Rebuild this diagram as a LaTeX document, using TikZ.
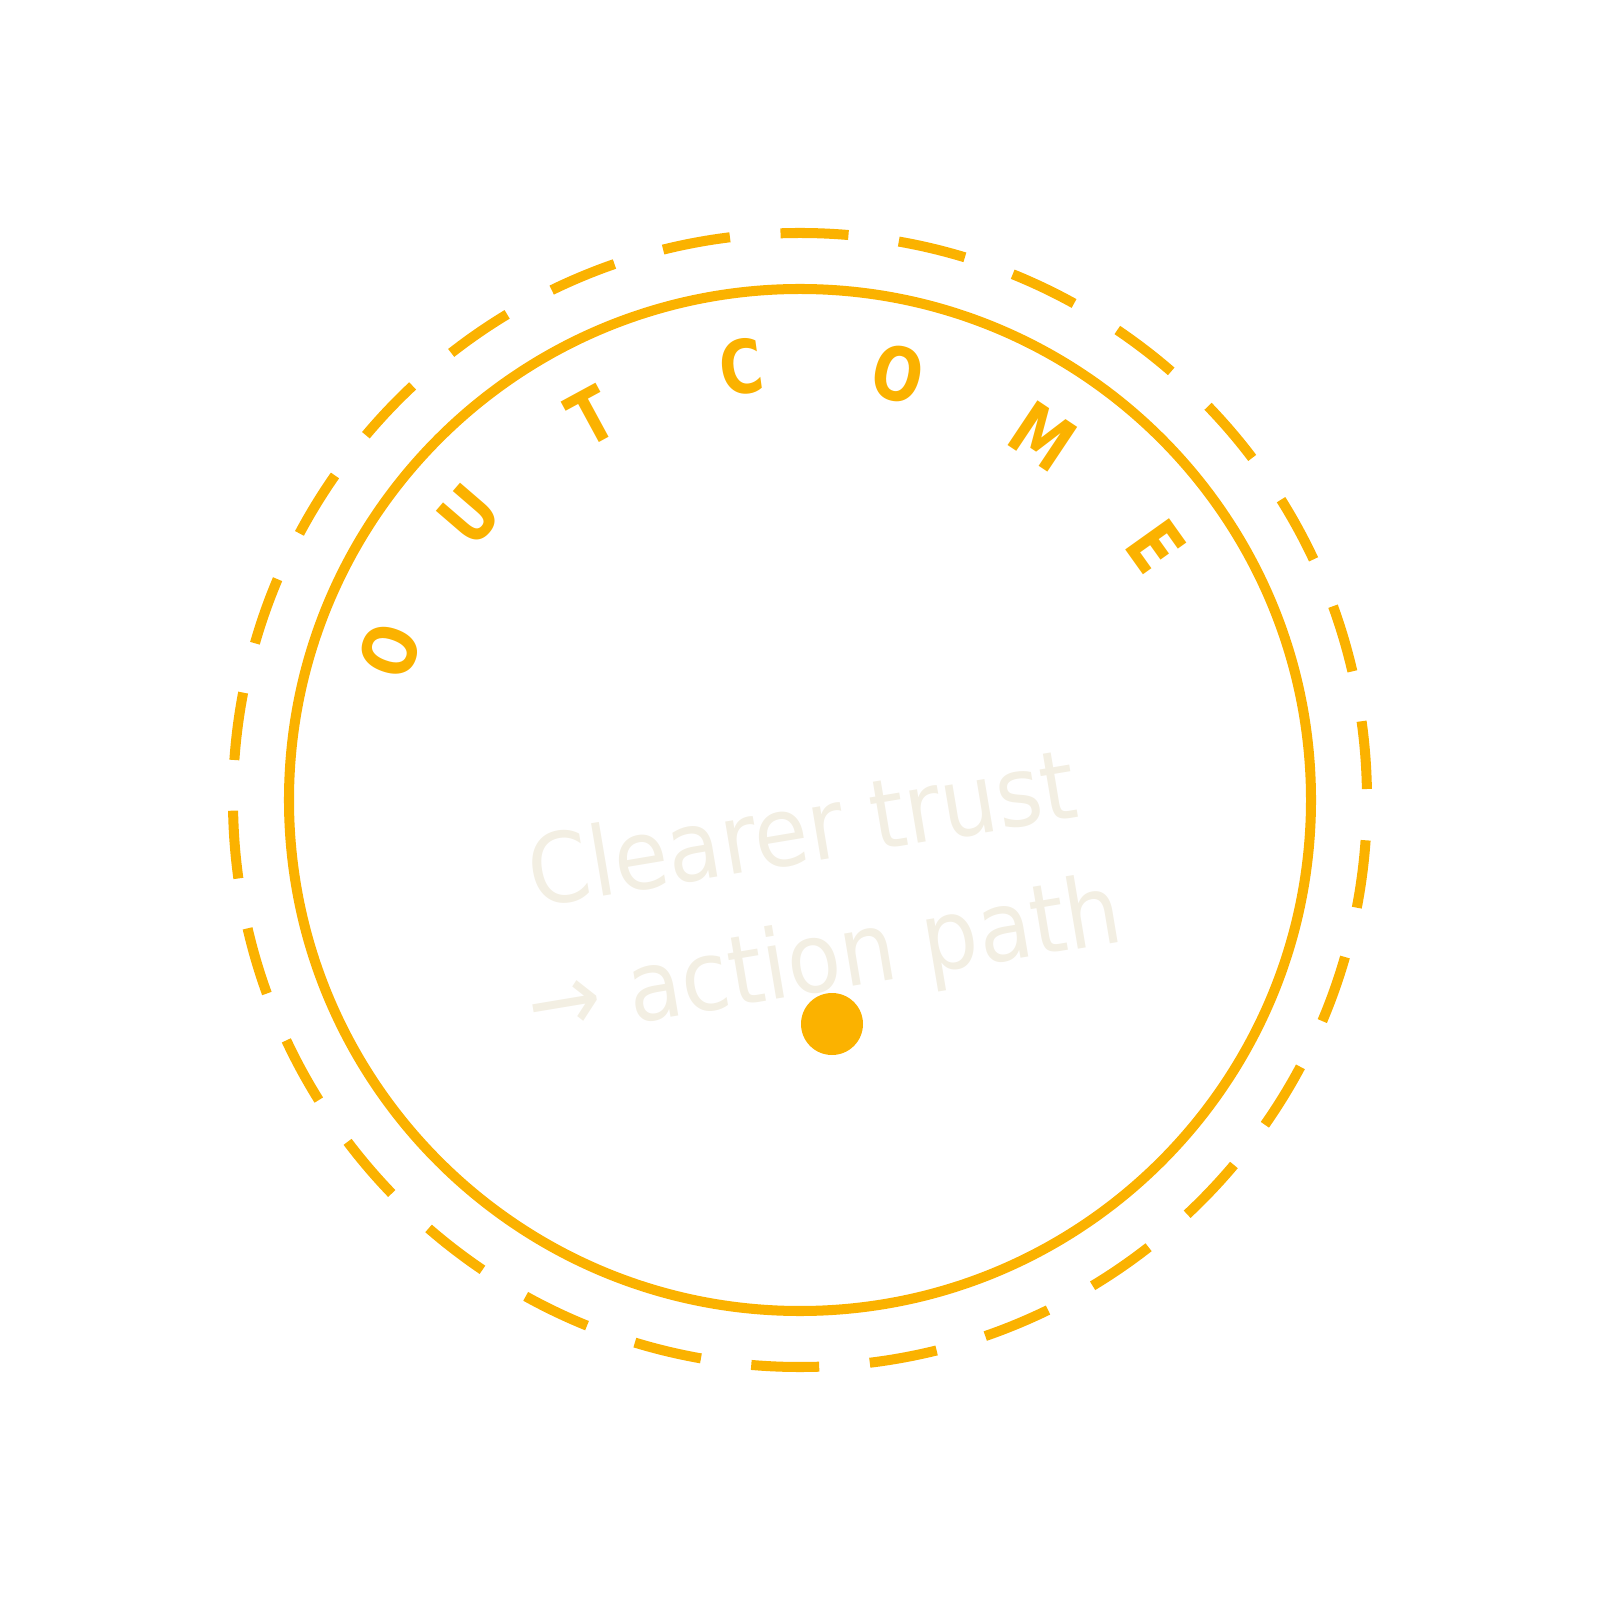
\documentclass[tikz,border=0pt]{standalone}
\usepackage{fontspec}
\setmainfont{DejaVu Sans}
\newfontfamily\arcfont[FakeStretch=0.8]{DejaVu Sans Bold}
\newfontfamily\claimfont[FakeStretch=0.91]{DejaVu Sans}
\definecolor{mygold}{RGB}{251,178,0}
\definecolor{mycream}{RGB}{243,239,227}

\begin{document}
\begin{tikzpicture}
\tikzset{
  ring/.style ={draw=mygold, line width=2.85pt},
  dashring/.style ={ring, dash pattern=on 0.68cm off 0.5075cm, dash phase=1.0775cm},
  arcletter/.style ={text=mygold, inner sep=0, font=\arcfont\fontsize{21}{22}\selectfont},
  centertext/.style ={text=mycream, align=center, font=\claimfont\fontsize{27.5}{37}\selectfont}
}
\useasboundingbox (-8,-8) rectangle (8,8);
\draw[dashring] (0,0) circle (5.67);
\draw[ring] (0,0) circle (5.11);
\foreach \ch [count=\i, evaluate=\i as \ang using 160-(\i-1)*20.75] in {O,U,T,C,O,M,E}
  \node[arcletter, rotate=\ang-90] (letter\i) at (\ang:4.37) {\ch};
\node[centertext, rotate=9.5] (claim) at (0.14,-1.0) {Clearer trust\\→ action path};
\node[circle, fill=mygold, inner sep=0, minimum size=0.62cm] (dot) at (0.32,-2.24) {};
\end{tikzpicture}
\end{document}
